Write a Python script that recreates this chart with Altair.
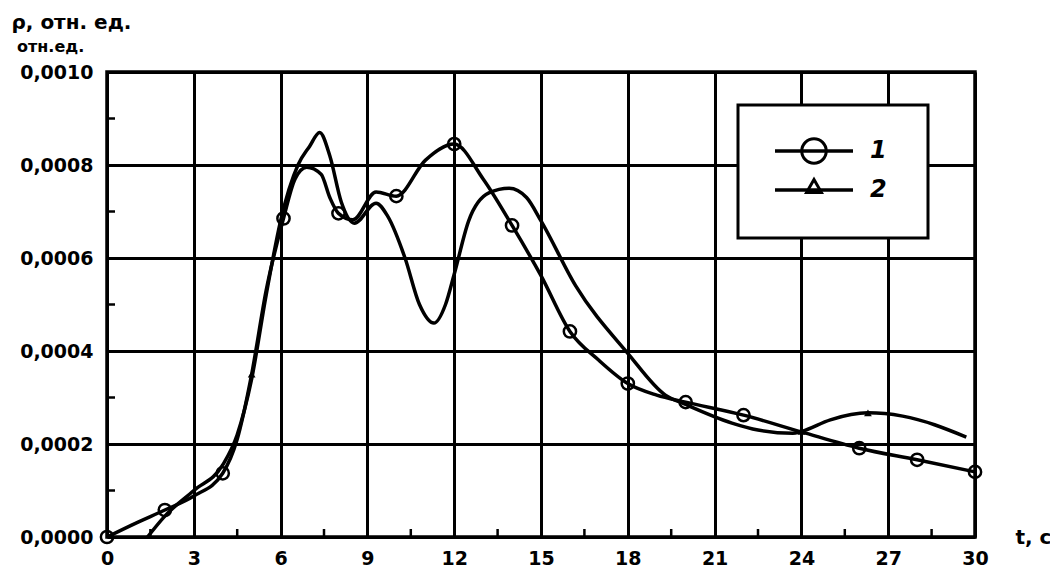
import altair as alt
import pandas as pd

# ---- data ----
t1 = [0, 1, 2, 3, 4, 4.5, 5, 5.5, 6.1, 6.5, 6.9, 7.4, 7.7, 8, 8.5, 9.3, 10, 11, 12, 13, 14, 15, 16, 17, 18, 19, 20, 22, 24, 26, 28, 30]
rho1 = [0, 0.00003, 0.000058, 0.000088, 0.000137, 0.00021, 0.00035, 0.00053, 0.000685, 0.00077, 0.000795, 0.00078, 0.00073,
        0.000696, 0.000682, 0.000742, 0.000733, 0.00081, 0.000845, 0.00077, 0.00067, 0.000562, 0.000442, 0.00038, 0.00033,
        0.000305, 0.00029, 0.000262, 0.000226, 0.000191, 0.000166, 0.00014]

t2 = [1.4, 2, 3, 4, 4.5, 5, 5.5, 6, 6.6, 7, 7.35, 7.7, 8.1, 8.55, 9.3, 9.7, 10.3, 10.8, 11.3, 11.7, 12, 12.5, 13.2, 13.9,
      14.5, 15, 16.2, 18, 19.3, 20, 21.6, 22.5, 23.7, 24, 25, 26.3, 27.5, 29.7]
rho2 = [0, 0.000045, 0.0001, 0.000155, 0.00022, 0.00034, 0.00052, 0.00068, 0.0008, 0.00084, 0.00087, 0.00082, 0.00072,
        0.000675, 0.000718, 0.00069, 0.0006, 0.0005, 0.00046, 0.0005, 0.000565, 0.00068, 0.00074, 0.00075, 0.00073,
        0.00068, 0.00054, 0.000395, 0.000305, 0.000285, 0.000245, 0.00023, 0.000223, 0.000227, 0.000252, 0.000267,
        0.00026, 0.000215]

m1_t = [0, 2, 4, 6.1, 8, 10, 12, 14, 16, 18, 20, 22, 26, 28, 30]
m1_rho = [0, 0.000058, 0.000137, 0.000685, 0.000696, 0.000733, 0.000845, 0.00067, 0.000442, 0.00033, 0.00029,
          0.000262, 0.000191, 0.000166, 0.00014]

m2_t = [5, 24, 26.3]
m2_rho = [0.00035, 0.000227, 0.000267]

x_ticks = [0, 3, 6, 9, 12, 15, 18, 21, 24, 27, 30]
y_ticks = [0, 0.0002, 0.0004, 0.0006, 0.0008, 0.0010]
minor_x = [1.5, 4.5, 7.5, 10.5, 13.5, 16.5, 19.5, 22.5, 25.5, 28.5]
minor_y = [0.0001, 0.0003, 0.0005, 0.0007, 0.0009]

series_names = ["1", "2"]
legend_labels = ["1", "2"]
y_title = "ρ, отн. ед."
y_unit = "отн.ед."
x_title = "t, c"

# ---- tables ----
lines = pd.concat([
    pd.DataFrame({"t": t1, "rho": rho1, "s": series_names[0]}),
    pd.DataFrame({"t": t2, "rho": rho2, "s": series_names[1]}),
])
m1 = pd.DataFrame({"t": m1_t, "rho": m1_rho})
m2 = pd.DataFrame({"t": m2_t, "rho": m2_rho})
mx = pd.DataFrame({"t": minor_x})
my = pd.DataFrame({"rho": minor_y})
one = pd.DataFrame({"a": [0]})

W, H = 868, 465
FONT = "DejaVu Sans"

xs = alt.Scale(domain=[0, 30], nice=False, zero=False)
ys = alt.Scale(domain=[0, 0.001], nice=False)

xaxis = alt.Axis(values=x_ticks, format="d", title=x_title, grid=True, ticks=False, domain=False,
                 labelPadding=12, labelFlush=False, titleX=908, titleY=0, titleAlign="left",
                 titleBaseline="middle", titleAngle=0)
yaxis = alt.Axis(values=y_ticks, labelExpr="replace(format(datum.value, '.4f'), '.', ',')", title=y_title,
                 grid=True, ticks=False, domain=False, labelPadding=14, labelFlush=False, titleAngle=0,
                 titleX=-96, titleY=-50, titleAlign="left", titleBaseline="middle")

X = alt.X("t:Q", scale=xs, axis=xaxis)
Y = alt.Y("rho:Q", scale=ys, axis=yaxis)

curves = alt.Chart(lines).mark_line(interpolate="monotone", color="black", strokeWidth=3.5).encode(
    x=X, y=Y, detail="s:N")
circles = alt.Chart(m1).mark_point(shape="circle", filled=False, size=150, strokeWidth=2.5, color="black",
                                   opacity=1).encode(x=X, y=Y)
tris = alt.Chart(m2).mark_point(shape="triangle-up", filled=True, size=60, color="black", opacity=1).encode(x=X, y=Y)

minor_xt = alt.Chart(mx).mark_rule(color="black", strokeWidth=2.5).encode(
    x=X, y=alt.value(H), y2=alt.value(H - 8))
minor_yt = alt.Chart(my).mark_rule(color="black", strokeWidth=2.5).encode(
    y=Y, x=alt.value(0), x2=alt.value(8))

# manual legend
box = alt.Chart(one).mark_rect(fill="white", stroke="black", strokeWidth=3).encode(
    x=alt.value(631), x2=alt.value(821), y=alt.value(33), y2=alt.value(166))
leg_l1 = alt.Chart(one).mark_rule(color="black", strokeWidth=3.5).encode(
    x=alt.value(668), x2=alt.value(746), y=alt.value(79))
leg_l2 = alt.Chart(one).mark_rule(color="black", strokeWidth=3.5).encode(
    x=alt.value(668), x2=alt.value(746), y=alt.value(118))
leg_c = alt.Chart(one).mark_point(shape="circle", filled=False, size=600, strokeWidth=3, color="black",
                                  opacity=1).encode(x=alt.value(707), y=alt.value(79))
leg_t = alt.Chart(one).mark_point(shape="triangle-up", filled=False, size=220, strokeWidth=3, color="black",
                                  opacity=1).encode(x=alt.value(707), y=alt.value(114))
leg_txt1 = alt.Chart(one).mark_text(font=FONT, fontSize=24, fontWeight="bold", fontStyle="italic", align="left",
                                    baseline="middle", color="black").encode(
    x=alt.value(763), y=alt.value(79), text=alt.value(legend_labels[0]))
leg_txt2 = alt.Chart(one).mark_text(font=FONT, fontSize=24, fontWeight="bold", fontStyle="italic", align="left",
                                    baseline="middle", color="black").encode(
    x=alt.value(763), y=alt.value(118), text=alt.value(legend_labels[1]))
unit_txt = alt.Chart(one).mark_text(font=FONT, fontSize=16, fontWeight="bold", align="left",
                                    baseline="middle", color="black").encode(
    x=alt.value(-90), y=alt.value(-25), text=alt.value(y_unit))

chart = alt.layer(
    curves, circles, tris, minor_xt, minor_yt,
    box, leg_l1, leg_l2, leg_c, leg_t, leg_txt1, leg_txt2, unit_txt
).properties(
    width=W, height=H,
    autosize=alt.AutoSizeParams(type="none"),
    padding={"left": 99, "top": 64, "right": 75, "bottom": 34},
    background="white",
).configure_view(
    stroke="black", strokeWidth=3.5
).configure_axis(
    gridColor="black", gridWidth=3, gridOpacity=1,
    labelFont=FONT, labelFontSize=19, labelFontWeight="bold", labelColor="black",
    titleFont=FONT, titleFontSize=20, titleFontWeight="bold", titleColor="black",
)

chart.save("out.html", embed_options={"renderer": "svg", "actions": False})
